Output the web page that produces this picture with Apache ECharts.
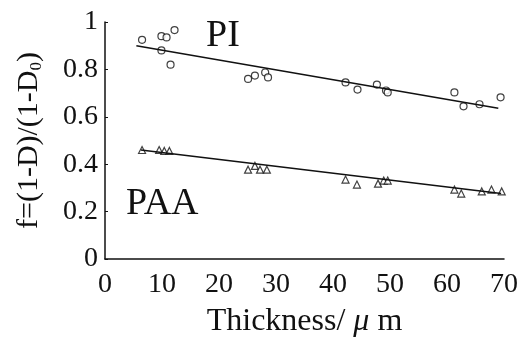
<!DOCTYPE html>
<html>
<head>
<meta charset="utf-8">
<script src="https://cdn.jsdelivr.net/npm/echarts@6/dist/echarts.min.js"></script>
<style>
  html, body { margin: 0; padding: 0; background: #fff; }
  #chart { width: 522px; height: 343px; }
</style>
</head>
<body>
<div id="chart"></div>
<script>
// PI (circles) measured points [thickness, f]
var piPoints = [
  [6.5, 0.925], [9.9, 0.94], [10.8, 0.935], [12.2, 0.966], [9.9, 0.88], [11.5, 0.82],
  [25.1, 0.76], [26.3, 0.774], [28.1, 0.787], [28.6, 0.766],
  [42.2, 0.745], [44.3, 0.715], [47.7, 0.736], [49.3, 0.711], [49.6, 0.703],
  [61.3, 0.703], [62.9, 0.644], [65.7, 0.653], [69.4, 0.682]
]
// PAA (triangles)
var paaPoints = [
  [6.5, 0.46], [9.5, 0.46], [10.4, 0.456], [11.3, 0.456],
  [25.1, 0.377], [26.3, 0.393], [27.2, 0.377], [28.4, 0.377],
  [42.2, 0.335], [44.2, 0.314], [47.9, 0.318], [48.9, 0.331], [49.6, 0.331],
  [61.3, 0.293], [62.5, 0.276], [66.1, 0.285], [67.8, 0.293], [69.6, 0.285]
]
// fitted lines (end points)
var piFit = [[5.5, 0.90], [69.0, 0.636]]
var paaFit = [[6.3, 0.46], [69.5, 0.276]]

var xTicks = [0, 10, 20, 30, 40, 50, 60, 70]
var yTicks = [0, 0.2, 0.4, 0.6, 0.8, 1]

var serif = '"Liberation Serif", "DejaVu Serif", serif'
var chart = echarts.init(document.getElementById('chart'))

var option = {
  animation: false,
  backgroundColor: '#fff',
  grid: { left: 105, right: 18, top: 22, bottom: 80, containLabel: false },
  xAxis: {
    type: 'value',
    min: xTicks[0],
    max: xTicks[xTicks.length - 1],
    interval: 10,
    name: 'Thickness/ {i|μ} m',
    nameLocation: 'middle',
    nameGap: 47,
    nameTextStyle: {
      fontFamily: serif, fontSize: 32, color: '#111',
      rich: { i: { fontFamily: serif, fontStyle: 'italic', fontSize: 32, color: '#111' } }
    },
    axisLine: { lineStyle: { color: '#111', width: 1.5 } },
    axisTick: { show: false },
    splitLine: { show: false },
    axisLabel: { fontFamily: serif, fontSize: 28, color: '#111', margin: 12 }
  },
  yAxis: {
    type: 'value',
    min: yTicks[0],
    max: yTicks[yTicks.length - 1],
    interval: 0.2,
    name: 'f=(1-D)/(1-D{s|0})',
    nameLocation: 'middle',
    nameRotate: 90,
    nameGap: 60,
    nameTextStyle: {
      fontFamily: serif, fontSize: 30, color: '#111',
      rich: { s: { fontFamily: serif, fontSize: 17, color: '#111', verticalAlign: 'bottom', padding: [14, 0, 0, 0] } }
    },
    axisLine: { show: true, lineStyle: { color: '#111', width: 1.5 } },
    axisTick: { show: true, inside: true, length: 3, lineStyle: { color: '#111' } },
    splitLine: { show: false },
    axisLabel: { fontFamily: serif, fontSize: 28, color: '#111', margin: 7 }
  },
  graphic: [
    { type: 'text', left: 206, top: 17, style: { text: 'PI', font: '38px ' + serif, fill: '#111' } },
    { type: 'text', left: 126, top: 185, style: { text: 'PAA', font: '38px ' + serif, fill: '#111' } }
  ],
  series: [
    {
      name: 'PI fit', type: 'line', data: piFit, showSymbol: false,
      lineStyle: { color: '#111', width: 1.5 }, silent: true
    },
    {
      name: 'PAA fit', type: 'line', data: paaFit, showSymbol: false,
      lineStyle: { color: '#111', width: 1.5 }, silent: true
    },
    {
      name: 'PI', type: 'scatter', data: piPoints, symbol: 'circle', symbolSize: 7,
      itemStyle: { color: '#fff', borderColor: '#111', borderWidth: 1.2 }
    },
    {
      name: 'PAA', type: 'scatter', data: paaPoints, symbol: 'triangle', symbolSize: 7,
      itemStyle: { color: '#fff', borderColor: '#111', borderWidth: 1.2 }
    }
  ]
}
chart.setOption(option)
window.addEventListener('resize', function () {
  chart.resize()
})
</script>
</body>
</html>
